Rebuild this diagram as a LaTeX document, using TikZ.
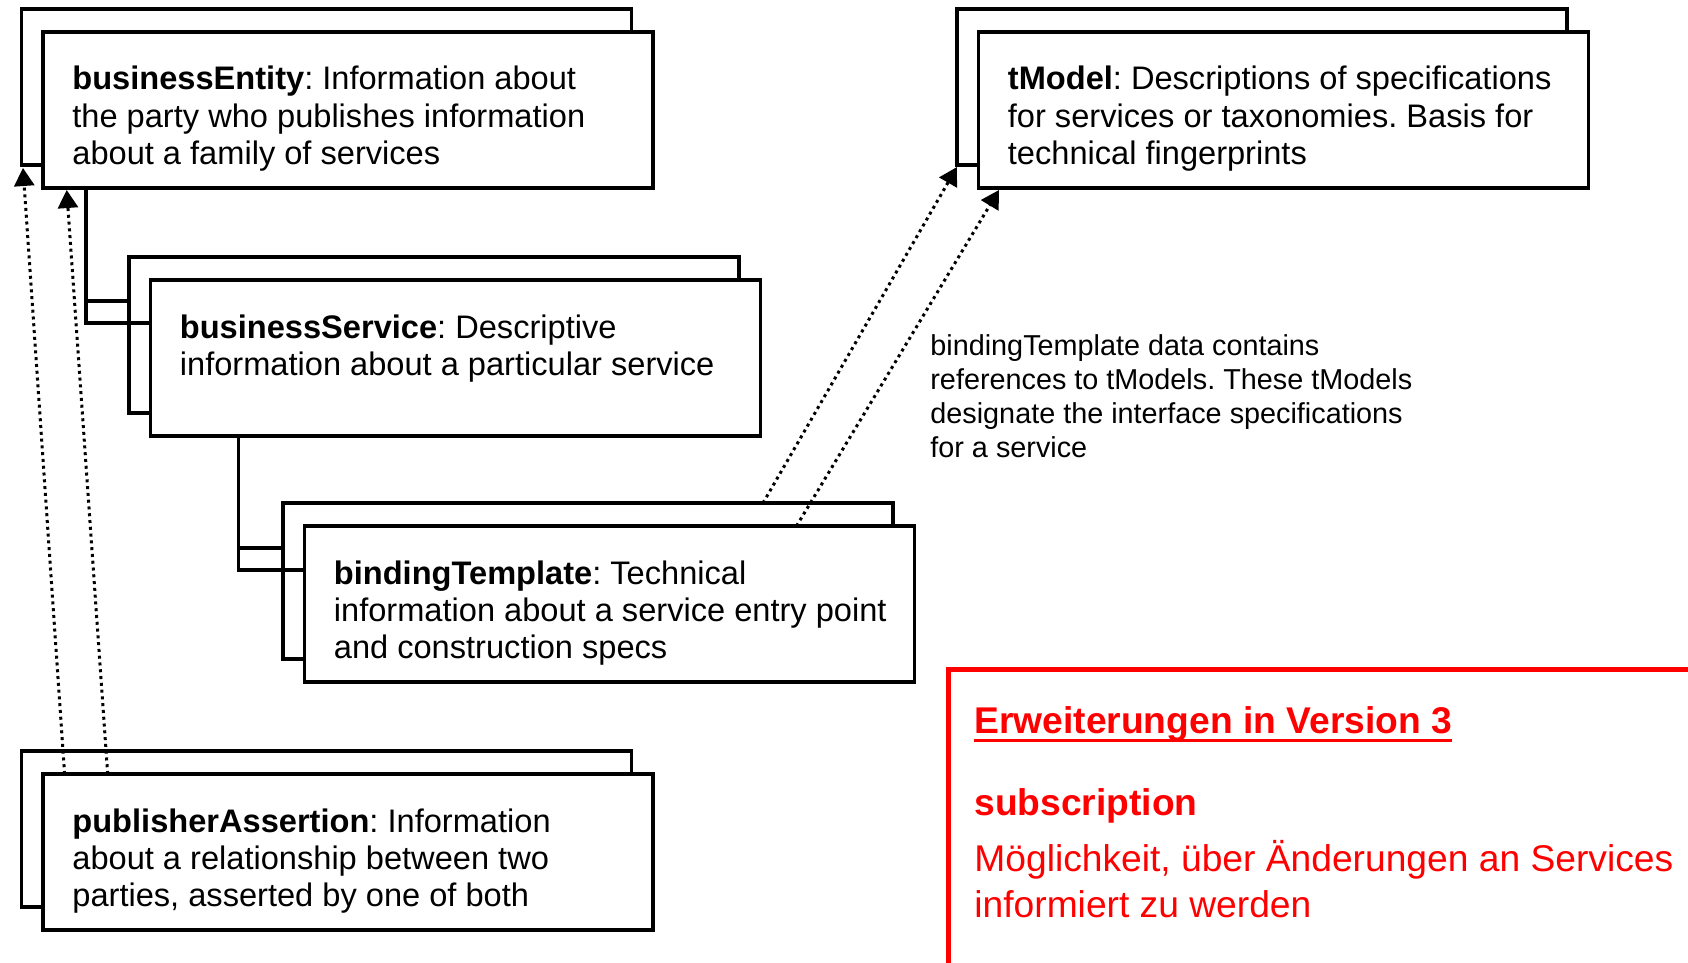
\documentclass[tikz,border=0pt]{standalone}
\usepackage{fontspec}
\setmainfont{Liberation Sans}
\frenchspacing
\usetikzlibrary{calc, arrows.meta}
\definecolor{myred}{RGB}{255, 0, 0}
\tikzset{>={Triangle[length=9pt, width=10pt]}}
\tikzset{
  card/.style = {draw, line width = 1.7pt, fill = white, anchor = north west,
    minimum width = 305pt, minimum height = 78pt, inner sep = 0pt, outer sep = 0pt},
  cardtext/.style = {anchor = base west, align = left, inner sep = 0pt,
    font = \fontsize{16.3}{18.6}\selectfont},
  link/.style = {line width = 1.7pt},
  ref/.style = {->, line width = 1.5pt, dash pattern = on 1.5pt off 1.9pt},
  redtext/.style = {anchor = base west, align = left, inner sep = 0pt, text = myred,
    font = \fontsize{18.6}{22.6}\selectfont},
}

\begin{document}
\begin{tikzpicture}[x = 0.5pt, y = -0.5pt]
\useasboundingbox (0,0) rectangle (1688,963);
% back cards
\node[card] (beback) at (21.5, 9) {};
\node[card] (tmback) at (957, 9) {};
\node[card] (bsback) at (129, 257) {};
\node[card] (btback) at (283, 503) {};
\node[card] (paback) at (21.5, 751) {};
% front cards
\node[card] (be) at (43, 32) {};
\node[card] (tm) at (978.5, 32) {};
\node[card] (bs) at (150.5, 280) {};
\node[card] (bt) at (304.5, 526) {};
\node[card] (pa) at (43, 774) {};
% texts, anchored at the baseline of their last line
\node[cardtext] (betext) at ($(be.north west)+(29,132.4)$)
  {\textbf{businessEntity}: Information about\\the party who publishes information\\about a family of services};
\node[cardtext] (tmtext) at ($(tm.north west)+(29,132.4)$)
  {\textbf{tModel}: Descriptions of specifications\\for services or taxonomies. Basis for\\technical fingerprints};
\node[cardtext] (bstext) at ($(bs.north west)+(29,95.2)$)
  {\textbf{businessService}: Descriptive\\information about a particular service};
\node[cardtext] (bttext) at ($(bt.north west)+(29,132.4)$)
  {\textbf{bindingTemplate}: Technical\\information about a service entry point\\and construction specs};
\node[cardtext] (patext) at ($(pa.north west)+(29,132.4)$)
  {\textbf{publisherAssertion}: Information\\about a relationship between two\\parties, asserted by one of both};
% tree lines
\draw[link] ($(be.south west)+(43,0)$) |- ($(bsback.north west)+(0,44)$);
\draw[link] ($(be.south west)+(43,0)$) |- ($(bs.north west)+(0,43)$);
\draw[link] ($(bs.south west)+(88,0)$) |- ($(btback.north west)+(0,45)$);
\draw[link] ($(bs.south west)+(88,0)$) |- ($(bt.north west)+(0,44)$);
% references
\draw[ref] ($(pa.north west)+(21.6,0)$) -- ($(beback.south west)+(1.5,3)$);
\draw[ref] ($(pa.north west)+(64.7,0)$) -- ($(be.south west)+(23.7,2)$);
\draw[ref] ($(btback.north west)+(480,0)$) -- ($(tmback.south west)+(0,2)$);
\draw[ref] ($(bt.north west)+(492,0)$) -- ($(tm.south west)+(20.5,2)$);
\node[anchor = base west, align = left, inner sep = 0pt,
  font = \fontsize{14.4}{17}\selectfont] (note) at (930, 457)
  {bindingTemplate data contains\\references to tModels. These tModels\\designate the interface specifications\\for a service};
% Version 3 box
\draw[myred, line width = 2.75pt] (948.5, 669.5) rectangle (1720, 968);
\node[redtext, font = \bfseries\fontsize{18.6}{22.6}\selectfont] (ext) at (974, 733)
  {Erweiterungen in Version 3};
\draw[myred, line width = 1.7pt] ($(ext.base west)+(0,7.5)$) -- ($(ext.base east)+(0,7.5)$);
\node[redtext, font = \bfseries\fontsize{18.6}{22.6}\selectfont] (sub) at (974, 815)
  {subscription};
\node[redtext] (subinfo) at (974, 917)
  {Möglichkeit, über Änderungen an Services\\informiert zu werden};
\end{tikzpicture}
\end{document}
